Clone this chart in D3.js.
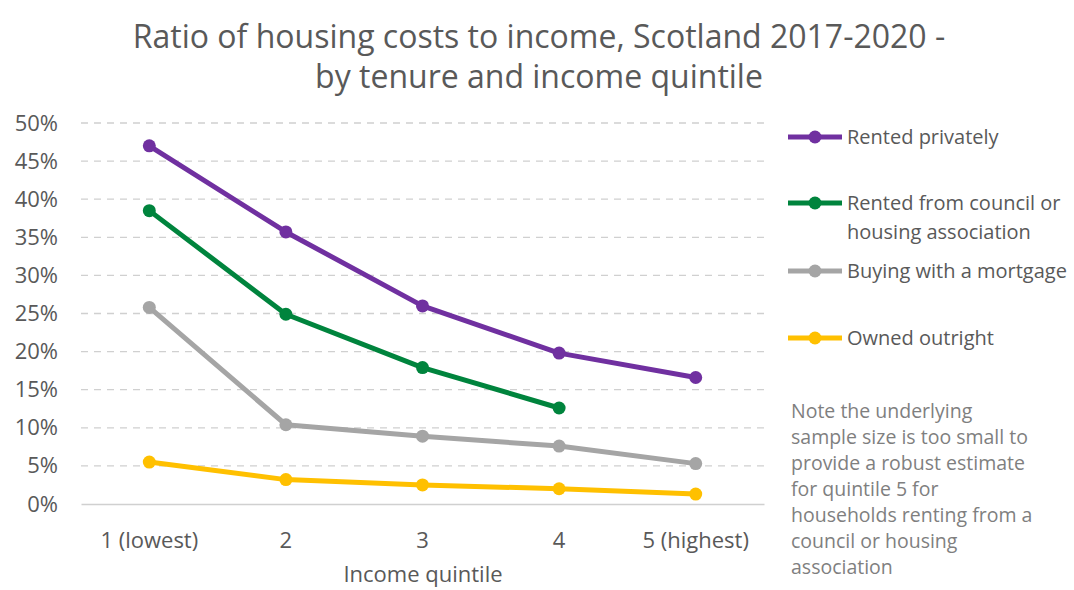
<!DOCTYPE html>
<html>
<head>
<meta charset="utf-8">
<script src="https://cdn.jsdelivr.net/npm/d3@7"></script>
<style>
  body { margin: 0; background: #fff; }
  text { font-family: "Open Sans", "Noto Sans", sans-serif; }
</style>
</head>
<body>
<svg width="1074" height="590"></svg>
<script>
const quintiles = ["1 (lowest)", "2", "3", "4", "5 (highest)"];
const rentedPrivately = [47.0, 35.7, 26.0, 19.8, 16.6];
const rentedCouncil = [38.5, 24.9, 17.9, 12.6, null];
const mortgage = [25.8, 10.4, 8.9, 7.6, 5.3];
const ownedOutright = [5.5, 3.2, 2.5, 2.0, 1.3];
const yTicks = [0, 5, 10, 15, 20, 25, 30, 35, 40, 45, 50];

const series = [
  {name: ["Rented privately"], values: rentedPrivately, color: "#7030a0"},
  {name: ["Rented from council or", "housing association"], values: rentedCouncil, color: "#00843d"},
  {name: ["Buying with a mortgage"], values: mortgage, color: "#a5a5a5"},
  {name: ["Owned outright"], values: ownedOutright, color: "#ffc000"}
];

const noteLines = ["Note the underlying", "sample size is too small to",
  "provide a robust estimate", "for quintile  5 for",
  "households renting from a", "council or housing", "association"];

const svg = d3.select("svg");
const plotLeft = 81, plotRight = 764, plotTop = 123, plotBottom = 504;

const x = d3.scaleBand().domain(quintiles).range([plotLeft, plotRight]);
const y = d3.scaleLinear().domain([0, 50]).range([plotBottom, plotTop]);

// title
const titleLines = ["Ratio of housing costs to income, Scotland 2017-2020 -",
  "by tenure and income quintile"];
svg.append("g").selectAll("text")
    .data(titleLines)
    .enter().append("text")
    .attr("x", 539).attr("y", (d, i) => 48 + i * 40)
    .attr("text-anchor", "middle")
    .attr("font-size", 32).attr("fill", "#595959")
    .text(d => d);

// gridlines
svg.append("g").selectAll("line")
    .data(yTicks.filter(d => d > 0))
    .enter().append("line")
    .attr("x1", plotLeft).attr("x2", plotRight)
    .attr("y1", d => y(d)).attr("y2", d => y(d))
    .attr("stroke", "#d0d0d0")
    .attr("stroke-width", 1.3)
    .attr("stroke-dasharray", "7,6");

// y axis labels
const yAxis = svg.append("g")
    .attr("transform", `translate(${plotLeft - 23},0)`)
    .call(d3.axisLeft(y).tickValues(yTicks).tickFormat(d => d + "%").tickSize(0).tickPadding(0));
yAxis.select(".domain").remove();
yAxis.selectAll("text").attr("font-size", 22).attr("fill", "#595959")
    .attr("font-family", "'Open Sans', sans-serif");

// x axis
const xAxis = svg.append("g")
    .attr("transform", `translate(0,${plotBottom})`)
    .call(d3.axisBottom(x).tickSize(0).tickPadding(28));
xAxis.select(".domain").attr("stroke", "#d0d0d0").attr("stroke-width", 1.5);
xAxis.selectAll("text").attr("font-size", 22).attr("fill", "#595959")
    .attr("font-family", "'Open Sans', sans-serif");

svg.append("text")
    .attr("x", 423).attr("y", 582)
    .attr("text-anchor", "middle")
    .attr("font-size", 22).attr("fill", "#595959")
    .text("Income quintile");

// lines
const line = d3.line()
    .defined(d => d.v != null)
    .x(d => x(d.q) + x.bandwidth() / 2)
    .y(d => y(d.v));

series.forEach(s => {
  const pts = quintiles.map((q, i) => ({q: q, v: s.values[i]}));
  svg.append("path")
      .datum(pts)
      .attr("d", line)
      .attr("fill", "none")
      .attr("stroke", s.color)
      .attr("stroke-width", 5)
      .attr("stroke-linejoin", "round");
  svg.append("g").selectAll("circle")
      .data(pts.filter(d => d.v != null))
      .enter().append("circle")
      .attr("cx", d => x(d.q) + x.bandwidth() / 2)
      .attr("cy", d => y(d.v))
      .attr("r", 6.5)
      .attr("fill", s.color);
});

// legend
const legendY = [137, 203, 271, 338];
series.forEach((s, i) => {
  const g = svg.append("g").attr("transform", `translate(788,${legendY[i]})`);
  g.append("line").attr("x1", 0).attr("x2", 54)
      .attr("stroke", s.color).attr("stroke-width", 5);
  g.append("circle").attr("cx", 27).attr("r", 6.5).attr("fill", s.color);
  s.name.forEach((t, j) => {
    g.append("text")
        .attr("x", 59).attr("y", j * 29)
        .attr("dy", "0.35em")
        .attr("font-size", 20).attr("fill", "#595959")
        .text(t);
  });
});

// note
svg.append("g").selectAll("text")
    .data(noteLines)
    .enter().append("text")
    .attr("x", 791)
    .attr("y", (d, i) => 418 + i * 26)
    .attr("font-size", 19.5).attr("fill", "#7f7f7f")
    .text(d => d);
</script>
</body>
</html>
